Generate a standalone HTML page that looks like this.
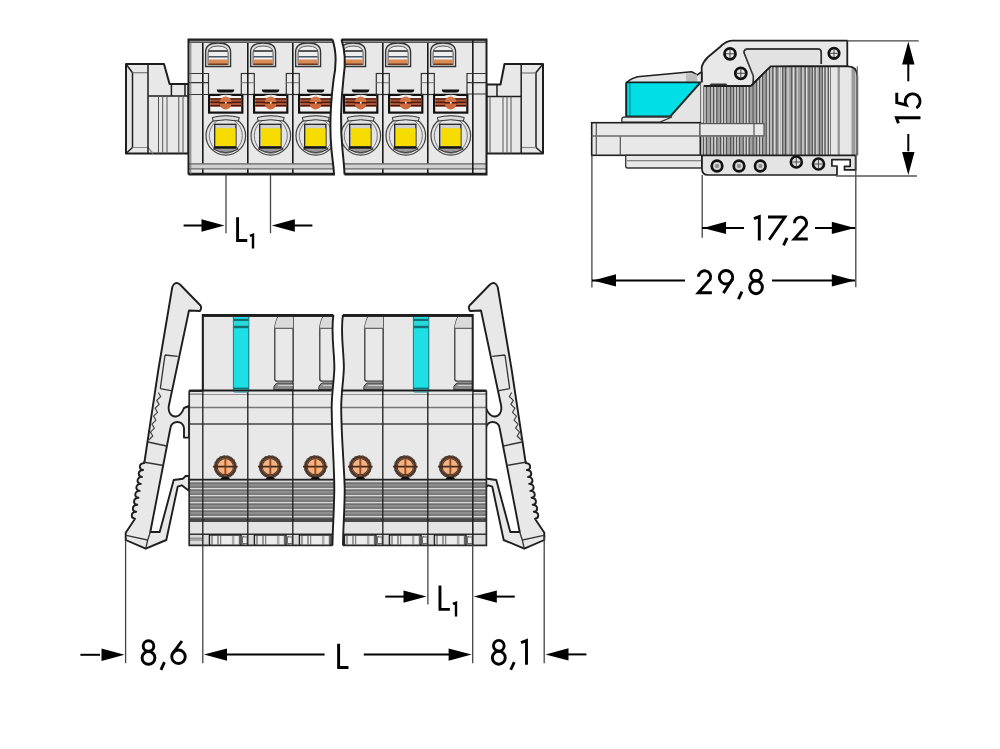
<!DOCTYPE html><html><head><meta charset="utf-8"><style>html,body{margin:0;padding:0;background:#fff;width:1000px;height:749px;overflow:hidden;font-family:"Liberation Sans",sans-serif}svg{display:block}text{font-family:"Liberation Sans",sans-serif}</style></head><body><svg width="1000" height="749" viewBox="0 0 1000 749"><rect width="1000" height="749" fill="#fff"/><g stroke="#1e1e1e" stroke-linejoin="round"><path d="M126,64 L164,64 L169.6,84 L188.5,84 L188.5,153.5 L126,153.5 Z" fill="#e8e8e8" stroke-width="2"/><path d="M126,64 L132.5,72.7 L132.5,147.5 L126,153.5" fill="none" stroke-width="1.5"/><path d="M132.5,72.7 L148,72.7" fill="none" stroke="#777" stroke-width="1.2"/><path d="M132.5,147.5 L148,147.5 L153,153.5" fill="none" stroke="#888" stroke-width="1.2"/><path d="M148,64 L148,153.5" fill="none" stroke-width="1.5"/><path d="M148,96 L188.5,96 M171.4,84 L171.4,96 M185,84 L185,96" fill="none" stroke-width="1.5"/><path d="M158.5,96 L158.5,153.5" fill="none" stroke="#555" stroke-width="1"/><path d="M162.7,96 L162.7,153.5" fill="none" stroke="#555" stroke-width="1"/><path d="M167,96 L167,153.5" fill="none" stroke="#555" stroke-width="1"/><path d="M178.8,96 L178.8,153.5" fill="none" stroke="#555" stroke-width="1"/><path d="M183,96 L183,153.5" fill="none" stroke="#555" stroke-width="1"/></g><g stroke="#1e1e1e" stroke-linejoin="round"><path d="M486.5,84.5 L500.5,84.5 L504.5,64 L543,64 L543,153.5 L486.5,153.5 Z" fill="#e8e8e8" stroke-width="2"/><path d="M543,64 L536,72.5 L536,147.5 L543,153.5" fill="none" stroke-width="1.5"/><path d="M521,73 L536,73" fill="none" stroke="#777" stroke-width="1.2"/><path d="M536,147.5 L521,147.5" fill="none" stroke="#888" stroke-width="1.2"/><path d="M521.2,64 L521.2,153.5" fill="none" stroke-width="1.5"/><path d="M486.5,96.5 L521,96.5 M497,84.5 L497,96.5" fill="none" stroke-width="1.5"/><path d="M490,96.5 L490,153.5" fill="none" stroke="#555" stroke-width="1"/><path d="M503,96.5 L503,153.5" fill="none" stroke="#555" stroke-width="1"/><path d="M507,96.5 L507,153.5" fill="none" stroke="#555" stroke-width="1"/><path d="M511,96.5 L511,153.5" fill="none" stroke="#555" stroke-width="1"/></g><defs><clipPath id="cL"><path d="M188.5,39.5 L332.5,39.5 C336,50 336.5,65 333.5,80 C331,100 329.5,130 331.5,150 C332.5,160 334,170 334,174.5 L188.5,174.5 Z"/></clipPath><clipPath id="cR"><path d="M341.5,39.5 C345,50 346,62 343.5,78 C341,100 340.5,130 342.5,150 C343.5,160 344.5,170 344.5,174.5 L486.5,174.5 L486.5,39.5 Z"/></clipPath></defs><g clip-path="url(#cL)"><rect x="186.5" y="38" width="151.5" height="138" fill="#e8e8e8"/><path d="M205.60000000000002,66.5 L205.60000000000002,52 Q205.60000000000002,43 218.10000000000002,43 Q230.60000000000002,43 230.60000000000002,52 L230.60000000000002,66.5 Z" fill="#dcdcdc" stroke="#333" stroke-width="1.3"/><path d="M208.10000000000002,64.5 L208.10000000000002,53 Q208.10000000000002,46 218.10000000000002,46 Q228.10000000000002,46 228.10000000000002,53 L228.10000000000002,64.5 Z" fill="#eee" stroke="#555" stroke-width="1"/><rect x="208.60000000000002" y="50" width="19.0" height="2" fill="#555"/><rect x="208.60000000000002" y="56" width="19.0" height="1.5" fill="#456"/><rect x="208.60000000000002" y="59.5" width="19.0" height="4.5" fill="#d98a55"/><rect x="208.60000000000002" y="63.5" width="19.0" height="1.5" fill="#6a3a20"/><path d="M216.8,89.5 L234.3,89.5 Q234.3,92.5 231.3,92.5 L219.8,92.5 Q216.8,92.5 216.8,89.5 Z" fill="#111"/><rect x="209.10000000000002" y="94.9" width="33.2" height="17.7" fill="#f2f2f2" stroke="#111" stroke-width="2.2"/><rect x="210.3" y="98.3" width="31" height="8.4" fill="#a85838"/><rect x="210.3" y="98.3" width="31" height="1.3" fill="#4a1208"/><rect x="210.3" y="101.6" width="31" height="1.3" fill="#4a1208"/><rect x="210.3" y="105.0" width="31" height="1.3" fill="#4a1208"/><path d="M217.3,97 Q225.8,93.5 234.3,97" fill="none" stroke="#fff" stroke-width="1.2"/><path d="M219.8,102 A5.6,5.2 0 0 1 231.4,102 Z" fill="#d27648"/><path d="M219.8,103.6 A5.6,5.8 0 0 0 231.4,103.6 Z" fill="#cf6a3c"/><path d="M219.3,102.8 L232.3,102.8" stroke="#5a1a0a" stroke-width="1.4"/><circle cx="225.8" cy="102.8" r="1" fill="#f0f0f0"/><ellipse cx="225.8" cy="135.7" rx="19.8" ry="19.4" fill="#e4e4e6" stroke="#444" stroke-width="1.2"/><ellipse cx="225.8" cy="135.7" rx="16.5" ry="17.5" fill="none" stroke="#777" stroke-width="1"/><path d="M212.3,117.5 Q225.8,114 239.3,117.5 L238.3,121 Q225.8,118.5 213.3,121 Z" fill="#ddd" stroke="#333" stroke-width="1"/><path d="M213.3,149 Q225.8,156 238.3,149 L236.3,147.5 L215.3,147.5 Z" fill="#9a9a9a" stroke="#333" stroke-width="1"/><rect x="214.70000000000002" y="124.3" width="21.2" height="23.7" fill="#cfcfcf" stroke="#222" stroke-width="1.3"/><rect x="215.9" y="128.3" width="19.7" height="18.1" fill="#f7dc00"/><rect x="214.70000000000002" y="146.2" width="21.2" height="2" fill="#111"/><path d="M250.60000000000002,66.5 L250.60000000000002,52 Q250.60000000000002,43 263.1,43 Q275.6,43 275.6,52 L275.6,66.5 Z" fill="#dcdcdc" stroke="#333" stroke-width="1.3"/><path d="M253.10000000000002,64.5 L253.10000000000002,53 Q253.10000000000002,46 263.1,46 Q273.1,46 273.1,53 L273.1,64.5 Z" fill="#eee" stroke="#555" stroke-width="1"/><rect x="253.60000000000002" y="50" width="19.0" height="2" fill="#555"/><rect x="253.60000000000002" y="56" width="19.0" height="1.5" fill="#456"/><rect x="253.60000000000002" y="59.5" width="19.0" height="4.5" fill="#d98a55"/><rect x="253.60000000000002" y="63.5" width="19.0" height="1.5" fill="#6a3a20"/><rect x="241.3" y="73.5" width="13" height="21" fill="none" stroke="#333" stroke-width="1.2"/><path d="M241.3,82.7 L254.3,82.7" stroke="#777" stroke-width="1"/><path d="M261.8,89.5 L279.3,89.5 Q279.3,92.5 276.3,92.5 L264.8,92.5 Q261.8,92.5 261.8,89.5 Z" fill="#111"/><rect x="254.10000000000002" y="94.9" width="33.2" height="17.7" fill="#f2f2f2" stroke="#111" stroke-width="2.2"/><rect x="255.3" y="98.3" width="31" height="8.4" fill="#a85838"/><rect x="255.3" y="98.3" width="31" height="1.3" fill="#4a1208"/><rect x="255.3" y="101.6" width="31" height="1.3" fill="#4a1208"/><rect x="255.3" y="105.0" width="31" height="1.3" fill="#4a1208"/><path d="M262.3,97 Q270.8,93.5 279.3,97" fill="none" stroke="#fff" stroke-width="1.2"/><path d="M264.8,102 A5.6,5.2 0 0 1 276.40000000000003,102 Z" fill="#d27648"/><path d="M264.8,103.6 A5.6,5.8 0 0 0 276.40000000000003,103.6 Z" fill="#cf6a3c"/><path d="M264.3,102.8 L277.3,102.8" stroke="#5a1a0a" stroke-width="1.4"/><circle cx="270.8" cy="102.8" r="1" fill="#f0f0f0"/><ellipse cx="270.8" cy="135.7" rx="19.8" ry="19.4" fill="#e4e4e6" stroke="#444" stroke-width="1.2"/><ellipse cx="270.8" cy="135.7" rx="16.5" ry="17.5" fill="none" stroke="#777" stroke-width="1"/><path d="M257.3,117.5 Q270.8,114 284.3,117.5 L283.3,121 Q270.8,118.5 258.3,121 Z" fill="#ddd" stroke="#333" stroke-width="1"/><path d="M258.3,149 Q270.8,156 283.3,149 L281.3,147.5 L260.3,147.5 Z" fill="#9a9a9a" stroke="#333" stroke-width="1"/><rect x="259.7" y="124.3" width="21.2" height="23.7" fill="#cfcfcf" stroke="#222" stroke-width="1.3"/><rect x="260.90000000000003" y="128.3" width="19.7" height="18.1" fill="#f7dc00"/><rect x="259.7" y="146.2" width="21.2" height="2" fill="#111"/><path d="M295.6,66.5 L295.6,52 Q295.6,43 308.1,43 Q320.6,43 320.6,52 L320.6,66.5 Z" fill="#dcdcdc" stroke="#333" stroke-width="1.3"/><path d="M298.1,64.5 L298.1,53 Q298.1,46 308.1,46 Q318.1,46 318.1,53 L318.1,64.5 Z" fill="#eee" stroke="#555" stroke-width="1"/><rect x="298.6" y="50" width="19.0" height="2" fill="#555"/><rect x="298.6" y="56" width="19.0" height="1.5" fill="#456"/><rect x="298.6" y="59.5" width="19.0" height="4.5" fill="#d98a55"/><rect x="298.6" y="63.5" width="19.0" height="1.5" fill="#6a3a20"/><rect x="286.3" y="73.5" width="13" height="21" fill="none" stroke="#333" stroke-width="1.2"/><path d="M286.3,82.7 L299.3,82.7" stroke="#777" stroke-width="1"/><path d="M306.8,89.5 L324.3,89.5 Q324.3,92.5 321.3,92.5 L309.8,92.5 Q306.8,92.5 306.8,89.5 Z" fill="#111"/><rect x="299.1" y="94.9" width="33.2" height="17.7" fill="#f2f2f2" stroke="#111" stroke-width="2.2"/><rect x="300.3" y="98.3" width="31" height="8.4" fill="#a85838"/><rect x="300.3" y="98.3" width="31" height="1.3" fill="#4a1208"/><rect x="300.3" y="101.6" width="31" height="1.3" fill="#4a1208"/><rect x="300.3" y="105.0" width="31" height="1.3" fill="#4a1208"/><path d="M307.3,97 Q315.8,93.5 324.3,97" fill="none" stroke="#fff" stroke-width="1.2"/><path d="M309.8,102 A5.6,5.2 0 0 1 321.40000000000003,102 Z" fill="#d27648"/><path d="M309.8,103.6 A5.6,5.8 0 0 0 321.40000000000003,103.6 Z" fill="#cf6a3c"/><path d="M309.3,102.8 L322.3,102.8" stroke="#5a1a0a" stroke-width="1.4"/><circle cx="315.8" cy="102.8" r="1" fill="#f0f0f0"/><ellipse cx="315.8" cy="135.7" rx="19.8" ry="19.4" fill="#e4e4e6" stroke="#444" stroke-width="1.2"/><ellipse cx="315.8" cy="135.7" rx="16.5" ry="17.5" fill="none" stroke="#777" stroke-width="1"/><path d="M302.3,117.5 Q315.8,114 329.3,117.5 L328.3,121 Q315.8,118.5 303.3,121 Z" fill="#ddd" stroke="#333" stroke-width="1"/><path d="M303.3,149 Q315.8,156 328.3,149 L326.3,147.5 L305.3,147.5 Z" fill="#9a9a9a" stroke="#333" stroke-width="1"/><rect x="304.7" y="124.3" width="21.2" height="23.7" fill="#cfcfcf" stroke="#222" stroke-width="1.3"/><rect x="305.90000000000003" y="128.3" width="19.7" height="18.1" fill="#f7dc00"/><rect x="304.7" y="146.2" width="21.2" height="2" fill="#111"/><path d="M202.8,39.5 L202.8,174.5" stroke="#1a1a1a" stroke-width="1.6"/><path d="M247.8,39.5 L247.8,174.5" stroke="#1a1a1a" stroke-width="1.6"/><path d="M292.8,39.5 L292.8,174.5" stroke="#1a1a1a" stroke-width="1.6"/><rect x="186.5" y="39" width="151.5" height="3.2" fill="#888"/><path d="M186.5,39.8 L338,39.8" stroke="#333" stroke-width="1.6"/><path d="M186.5,42.5 L338,42.5" stroke="#555" stroke-width="1"/><rect x="186.5" y="163.5" width="151.5" height="5" fill="#cfcfcf"/><path d="M186.5,163.8 L338,163.8 M186.5,168.8 L338,168.8" stroke="#666" stroke-width="1.2"/><path d="M186.5,173.8 L338,173.8" stroke="#222" stroke-width="2"/></g><g clip-path="url(#cR)"><rect x="338" y="38" width="150.5" height="138" fill="#e8e8e8"/><path d="M340.6,66.5 L340.6,52 Q340.6,43 353.1,43 Q365.6,43 365.6,52 L365.6,66.5 Z" fill="#dcdcdc" stroke="#333" stroke-width="1.3"/><path d="M343.1,64.5 L343.1,53 Q343.1,46 353.1,46 Q363.1,46 363.1,53 L363.1,64.5 Z" fill="#eee" stroke="#555" stroke-width="1"/><rect x="343.6" y="50" width="19.0" height="2" fill="#555"/><rect x="343.6" y="56" width="19.0" height="1.5" fill="#456"/><rect x="343.6" y="59.5" width="19.0" height="4.5" fill="#d98a55"/><rect x="343.6" y="63.5" width="19.0" height="1.5" fill="#6a3a20"/><path d="M351.8,89.5 L369.3,89.5 Q369.3,92.5 366.3,92.5 L354.8,92.5 Q351.8,92.5 351.8,89.5 Z" fill="#111"/><rect x="344.1" y="94.9" width="33.2" height="17.7" fill="#f2f2f2" stroke="#111" stroke-width="2.2"/><rect x="345.3" y="98.3" width="31" height="8.4" fill="#a85838"/><rect x="345.3" y="98.3" width="31" height="1.3" fill="#4a1208"/><rect x="345.3" y="101.6" width="31" height="1.3" fill="#4a1208"/><rect x="345.3" y="105.0" width="31" height="1.3" fill="#4a1208"/><path d="M352.3,97 Q360.8,93.5 369.3,97" fill="none" stroke="#fff" stroke-width="1.2"/><path d="M354.8,102 A5.6,5.2 0 0 1 366.40000000000003,102 Z" fill="#d27648"/><path d="M354.8,103.6 A5.6,5.8 0 0 0 366.40000000000003,103.6 Z" fill="#cf6a3c"/><path d="M354.3,102.8 L367.3,102.8" stroke="#5a1a0a" stroke-width="1.4"/><circle cx="360.8" cy="102.8" r="1" fill="#f0f0f0"/><ellipse cx="360.8" cy="135.7" rx="19.8" ry="19.4" fill="#e4e4e6" stroke="#444" stroke-width="1.2"/><ellipse cx="360.8" cy="135.7" rx="16.5" ry="17.5" fill="none" stroke="#777" stroke-width="1"/><path d="M347.3,117.5 Q360.8,114 374.3,117.5 L373.3,121 Q360.8,118.5 348.3,121 Z" fill="#ddd" stroke="#333" stroke-width="1"/><path d="M348.3,149 Q360.8,156 373.3,149 L371.3,147.5 L350.3,147.5 Z" fill="#9a9a9a" stroke="#333" stroke-width="1"/><rect x="349.7" y="124.3" width="21.2" height="23.7" fill="#cfcfcf" stroke="#222" stroke-width="1.3"/><rect x="350.90000000000003" y="128.3" width="19.7" height="18.1" fill="#f7dc00"/><rect x="349.7" y="146.2" width="21.2" height="2" fill="#111"/><path d="M385.6,66.5 L385.6,52 Q385.6,43 398.1,43 Q410.6,43 410.6,52 L410.6,66.5 Z" fill="#dcdcdc" stroke="#333" stroke-width="1.3"/><path d="M388.1,64.5 L388.1,53 Q388.1,46 398.1,46 Q408.1,46 408.1,53 L408.1,64.5 Z" fill="#eee" stroke="#555" stroke-width="1"/><rect x="388.6" y="50" width="19.0" height="2" fill="#555"/><rect x="388.6" y="56" width="19.0" height="1.5" fill="#456"/><rect x="388.6" y="59.5" width="19.0" height="4.5" fill="#d98a55"/><rect x="388.6" y="63.5" width="19.0" height="1.5" fill="#6a3a20"/><rect x="376.3" y="73.5" width="13" height="21" fill="none" stroke="#333" stroke-width="1.2"/><path d="M376.3,82.7 L389.3,82.7" stroke="#777" stroke-width="1"/><path d="M396.8,89.5 L414.3,89.5 Q414.3,92.5 411.3,92.5 L399.8,92.5 Q396.8,92.5 396.8,89.5 Z" fill="#111"/><rect x="389.1" y="94.9" width="33.2" height="17.7" fill="#f2f2f2" stroke="#111" stroke-width="2.2"/><rect x="390.3" y="98.3" width="31" height="8.4" fill="#a85838"/><rect x="390.3" y="98.3" width="31" height="1.3" fill="#4a1208"/><rect x="390.3" y="101.6" width="31" height="1.3" fill="#4a1208"/><rect x="390.3" y="105.0" width="31" height="1.3" fill="#4a1208"/><path d="M397.3,97 Q405.8,93.5 414.3,97" fill="none" stroke="#fff" stroke-width="1.2"/><path d="M399.8,102 A5.6,5.2 0 0 1 411.40000000000003,102 Z" fill="#d27648"/><path d="M399.8,103.6 A5.6,5.8 0 0 0 411.40000000000003,103.6 Z" fill="#cf6a3c"/><path d="M399.3,102.8 L412.3,102.8" stroke="#5a1a0a" stroke-width="1.4"/><circle cx="405.8" cy="102.8" r="1" fill="#f0f0f0"/><ellipse cx="405.8" cy="135.7" rx="19.8" ry="19.4" fill="#e4e4e6" stroke="#444" stroke-width="1.2"/><ellipse cx="405.8" cy="135.7" rx="16.5" ry="17.5" fill="none" stroke="#777" stroke-width="1"/><path d="M392.3,117.5 Q405.8,114 419.3,117.5 L418.3,121 Q405.8,118.5 393.3,121 Z" fill="#ddd" stroke="#333" stroke-width="1"/><path d="M393.3,149 Q405.8,156 418.3,149 L416.3,147.5 L395.3,147.5 Z" fill="#9a9a9a" stroke="#333" stroke-width="1"/><rect x="394.7" y="124.3" width="21.2" height="23.7" fill="#cfcfcf" stroke="#222" stroke-width="1.3"/><rect x="395.90000000000003" y="128.3" width="19.7" height="18.1" fill="#f7dc00"/><rect x="394.7" y="146.2" width="21.2" height="2" fill="#111"/><path d="M430.6,66.5 L430.6,52 Q430.6,43 443.1,43 Q455.6,43 455.6,52 L455.6,66.5 Z" fill="#dcdcdc" stroke="#333" stroke-width="1.3"/><path d="M433.1,64.5 L433.1,53 Q433.1,46 443.1,46 Q453.1,46 453.1,53 L453.1,64.5 Z" fill="#eee" stroke="#555" stroke-width="1"/><rect x="433.6" y="50" width="19.0" height="2" fill="#555"/><rect x="433.6" y="56" width="19.0" height="1.5" fill="#456"/><rect x="433.6" y="59.5" width="19.0" height="4.5" fill="#d98a55"/><rect x="433.6" y="63.5" width="19.0" height="1.5" fill="#6a3a20"/><rect x="421.3" y="73.5" width="13" height="21" fill="none" stroke="#333" stroke-width="1.2"/><path d="M421.3,82.7 L434.3,82.7" stroke="#777" stroke-width="1"/><path d="M441.8,89.5 L459.3,89.5 Q459.3,92.5 456.3,92.5 L444.8,92.5 Q441.8,92.5 441.8,89.5 Z" fill="#111"/><rect x="434.1" y="94.9" width="33.2" height="17.7" fill="#f2f2f2" stroke="#111" stroke-width="2.2"/><rect x="435.3" y="98.3" width="31" height="8.4" fill="#a85838"/><rect x="435.3" y="98.3" width="31" height="1.3" fill="#4a1208"/><rect x="435.3" y="101.6" width="31" height="1.3" fill="#4a1208"/><rect x="435.3" y="105.0" width="31" height="1.3" fill="#4a1208"/><path d="M442.3,97 Q450.8,93.5 459.3,97" fill="none" stroke="#fff" stroke-width="1.2"/><path d="M444.8,102 A5.6,5.2 0 0 1 456.40000000000003,102 Z" fill="#d27648"/><path d="M444.8,103.6 A5.6,5.8 0 0 0 456.40000000000003,103.6 Z" fill="#cf6a3c"/><path d="M444.3,102.8 L457.3,102.8" stroke="#5a1a0a" stroke-width="1.4"/><circle cx="450.8" cy="102.8" r="1" fill="#f0f0f0"/><ellipse cx="450.8" cy="135.7" rx="19.8" ry="19.4" fill="#e4e4e6" stroke="#444" stroke-width="1.2"/><ellipse cx="450.8" cy="135.7" rx="16.5" ry="17.5" fill="none" stroke="#777" stroke-width="1"/><path d="M437.3,117.5 Q450.8,114 464.3,117.5 L463.3,121 Q450.8,118.5 438.3,121 Z" fill="#ddd" stroke="#333" stroke-width="1"/><path d="M438.3,149 Q450.8,156 463.3,149 L461.3,147.5 L440.3,147.5 Z" fill="#9a9a9a" stroke="#333" stroke-width="1"/><rect x="439.7" y="124.3" width="21.2" height="23.7" fill="#cfcfcf" stroke="#222" stroke-width="1.3"/><rect x="440.90000000000003" y="128.3" width="19.7" height="18.1" fill="#f7dc00"/><rect x="439.7" y="146.2" width="21.2" height="2" fill="#111"/><path d="M337.8,39.5 L337.8,174.5" stroke="#1a1a1a" stroke-width="1.6"/><path d="M382.8,39.5 L382.8,174.5" stroke="#1a1a1a" stroke-width="1.6"/><path d="M427.8,39.5 L427.8,174.5" stroke="#1a1a1a" stroke-width="1.6"/><rect x="338" y="39" width="150.5" height="3.2" fill="#888"/><path d="M338,39.8 L488.5,39.8" stroke="#333" stroke-width="1.6"/><path d="M338,42.5 L488.5,42.5" stroke="#555" stroke-width="1"/><rect x="338" y="163.5" width="150.5" height="5" fill="#cfcfcf"/><path d="M338,163.8 L488.5,163.8 M338,168.8 L488.5,168.8" stroke="#666" stroke-width="1.2"/><path d="M338,173.8 L488.5,173.8" stroke="#222" stroke-width="2"/></g><path d="M472.8,39.5 L472.8,174.5" stroke="#1a1a1a" stroke-width="1.6"/><path d="M188.5,174.5 L188.5,39.5 L332.5,39.5" fill="none" stroke="#1e1e1e" stroke-width="2"/><path d="M332.5,39.5 C336,50 336.5,65 333.5,80 C331,100 329.5,130 331.5,150 C332.5,160 334,170 334,174.5 L188.5,174.5" fill="none" stroke="#1e1e1e" stroke-width="2"/><path d="M341.5,39.5 C345,50 346,62 343.5,78 C341,100 340.5,130 342.5,150 C343.5,160 344.5,170 344.5,174.5" fill="none" stroke="#1e1e1e" stroke-width="2"/><path d="M341.5,39.5 L486.5,39.5 L486.5,174.5 L344.5,174.5" fill="none" stroke="#1e1e1e" stroke-width="2"/><path d="M188.5,73.5 L208.5,73.5 L208.5,94.5 L188.5,94.5 M188.5,82.7 L208.5,82.7" fill="none" stroke="#333" stroke-width="1.2"/><path d="M190.8,42 L190.8,174" stroke="#777" stroke-width="1"/><path d="M486.5,73.5 L467,73.5 L467,94 L486.5,94 M467,82.7 L486.5,82.7" fill="none" stroke="#333" stroke-width="1.2"/><g id="side"><path d="M701.7,86 L701.7,67 Q703,62 708,57 L720,47 Q726,41 732,40.7 L847.3,40.7 L847.3,66.3 L770.7,66.3 L751,86 Z" fill="#e8e8e8" stroke="#1e1e1e" stroke-width="1.8" stroke-linejoin="round"/><path d="M744,52.5 Q744,49 748,49 L818,49 Q821.3,49 821.3,53 L821.3,64 M744,52.5 L753.3,76 L753.3,84" fill="none" stroke="#333" stroke-width="1.5"/><path d="M748,50 L818,50 L820,64 L770,66 L753,82 L745,53 Z" fill="#e2e2e2"/><path d="M744,52.5 Q744,49 748,49 L818,49 Q821.3,49 821.3,53 L821.3,64 M744,52.5 L753.3,76 L753.3,84" fill="none" stroke="#333" stroke-width="1.5"/><circle cx="730" cy="53.8" r="5.5" fill="#e8e8e8" stroke="#111" stroke-width="2.8"/><path d="M726.0,53.8 L734.0,53.8 M730,49.8 L730,57.8" stroke="#333" stroke-width="0.9"/><circle cx="740.8" cy="73.3" r="5.5" fill="#e8e8e8" stroke="#111" stroke-width="2.8"/><path d="M736.8,73.3 L744.8,73.3 M740.8,69.3 L740.8,77.3" stroke="#333" stroke-width="0.9"/><circle cx="834" cy="53.3" r="5.2" fill="#e8e8e8" stroke="#111" stroke-width="2.8"/><path d="M830.3,53.3 L837.7,53.3 M834,49.599999999999994 L834,57.0" stroke="#333" stroke-width="0.9"/><path d="M708.5,86 L711,83.5 L726,83.5 L728.5,86 Z" fill="#333"/><path d="M626.3,116.3 L626.3,84 Q627,80 637.5,76.7 L691.6,71.7 L697.4,74.9 L700.6,72.5 L701.7,72.5 L701.7,86 L700.6,84.7 Z" fill="#e4e4e4" stroke="#1e1e1e" stroke-width="1.6" stroke-linejoin="round"/><path d="M686,73 L697,74.5 L697,84 L686,84 Z" fill="#bdbdbd"/><defs><clipPath id="stripe"><path d="M700.3,86 L751,86 L770.7,66.3 L848,66.3 Q857.3,66.3 857.3,76 L857.3,155.3 L700.3,155.3 Z"/></clipPath></defs><g clip-path="url(#stripe)"><rect x="700" y="60" width="160" height="100" fill="#a0a0a0"/><rect x="701.6" y="60" width="1.1" height="100" fill="#dedede"/><rect x="704.4" y="60" width="1.1" height="100" fill="#dedede"/><rect x="711.4" y="60" width="1.1" height="100" fill="#dedede"/><rect x="714.6" y="60" width="1.1" height="100" fill="#dedede"/><rect x="721.6" y="60" width="1.1" height="100" fill="#dedede"/><rect x="724.4" y="60" width="1.1" height="100" fill="#dedede"/><rect x="734.5" y="60" width="1.1" height="100" fill="#dedede"/><rect x="737.3" y="60" width="1.1" height="100" fill="#dedede"/><rect x="744.3" y="60" width="1.1" height="100" fill="#dedede"/><rect x="747.1" y="60" width="1.1" height="100" fill="#dedede"/><rect x="757.6" y="60" width="1.1" height="100" fill="#dedede"/><rect x="760.5" y="60" width="1.1" height="100" fill="#dedede"/><rect x="767.4" y="60" width="1.1" height="100" fill="#dedede"/><rect x="770.4" y="60" width="1.1" height="100" fill="#dedede"/><rect x="774.0" y="60" width="1.1" height="100" fill="#dedede"/><rect x="779.0" y="60" width="1.1" height="100" fill="#dedede"/><rect x="780.8" y="60" width="1.1" height="100" fill="#dedede"/><rect x="787.5" y="60" width="1.1" height="100" fill="#dedede"/><rect x="792.9" y="60" width="1.1" height="100" fill="#dedede"/><rect x="796.5" y="60" width="1.1" height="100" fill="#dedede"/><rect x="802.4" y="60" width="1.1" height="100" fill="#dedede"/><rect x="806.0" y="60" width="1.1" height="100" fill="#dedede"/><rect x="812.7" y="60" width="1.1" height="100" fill="#dedede"/><rect x="816.3" y="60" width="1.1" height="100" fill="#dedede"/><rect x="823.1" y="60" width="1.1" height="100" fill="#dedede"/><rect x="825.8" y="60" width="1.1" height="100" fill="#dedede"/><rect x="702.9" y="60" width="1.1" height="100" fill="#555"/><rect x="705.9" y="60" width="1.1" height="100" fill="#555"/><rect x="710.0" y="60" width="1.1" height="100" fill="#555"/><rect x="713.0" y="60" width="1.1" height="100" fill="#555"/><rect x="716.3" y="60" width="1.1" height="100" fill="#555"/><rect x="720.0" y="60" width="1.1" height="100" fill="#555"/><rect x="723.0" y="60" width="1.1" height="100" fill="#555"/><rect x="726.0" y="60" width="1.1" height="100" fill="#555"/><rect x="730.0" y="60" width="1.1" height="100" fill="#555"/><rect x="733.0" y="60" width="1.1" height="100" fill="#555"/><rect x="736.0" y="60" width="1.1" height="100" fill="#555"/><rect x="739.0" y="60" width="1.1" height="100" fill="#555"/><rect x="742.7" y="60" width="1.1" height="100" fill="#555"/><rect x="745.7" y="60" width="1.1" height="100" fill="#555"/><rect x="748.7" y="60" width="1.1" height="100" fill="#555"/><rect x="752.5" y="60" width="1.1" height="100" fill="#555"/><rect x="756.0" y="60" width="1.1" height="100" fill="#555"/><rect x="759.0" y="60" width="1.1" height="100" fill="#555"/><rect x="762.0" y="60" width="1.1" height="100" fill="#555"/><rect x="765.7" y="60" width="1.1" height="100" fill="#555"/><rect x="769.0" y="60" width="1.1" height="100" fill="#555"/><rect x="772.2" y="60" width="1.1" height="100" fill="#555"/><rect x="776.3" y="60" width="1.1" height="100" fill="#555"/><rect x="782.1" y="60" width="1.1" height="100" fill="#555"/><rect x="785.0" y="60" width="1.1" height="100" fill="#555"/><rect x="791.1" y="60" width="1.1" height="100" fill="#555"/><rect x="795.2" y="60" width="1.1" height="100" fill="#555"/><rect x="800.6" y="60" width="1.1" height="100" fill="#555"/><rect x="804.6" y="60" width="1.1" height="100" fill="#555"/><rect x="808.5" y="60" width="1.1" height="100" fill="#555"/><rect x="811.8" y="60" width="1.1" height="100" fill="#555"/><rect x="814.5" y="60" width="1.1" height="100" fill="#555"/><rect x="819.0" y="60" width="1.1" height="100" fill="#555"/><rect x="821.8" y="60" width="1.1" height="100" fill="#555"/><rect x="824.5" y="60" width="1.1" height="100" fill="#555"/><rect x="828.1" y="60" width="1.1" height="100" fill="#555"/><rect x="829" y="60" width="28.3" height="100" fill="#e6e6e6"/><rect x="837.5" y="60" width="2.5" height="100" fill="#9a9a9a"/><rect x="851.5" y="60" width="4" height="100" fill="#9a9a9a"/><rect x="830" y="60" width="1" height="100" fill="#777"/></g><path d="M751,86 L770.7,66.3 L848,66.3 Q857.3,66.3 857.3,76 L857.3,155.3" fill="none" stroke="#1e1e1e" stroke-width="1.8"/><path d="M700.3,86 L751,86" stroke="#1e1e1e" stroke-width="1.8"/><path d="M857.3,66.3 L857.3,155.3" stroke="#777" stroke-width="1.3"/><path d="M626.3,82.4 L700.6,82.4 L670.4,116.3 L626.3,116.3 Z" fill="#00dfe6" stroke="#0d2a2a" stroke-width="1.8" stroke-linejoin="round"/><path d="M629.9,83 L629.9,116" stroke="#0a6a70" stroke-width="1"/><path d="M670.4,116.3 L700.6,82.4 L703.7,82.4 L703.7,122 L650,122 Z" fill="#e4e4e4"/><path d="M670.4,116.3 L700.6,82.4" stroke="#0d2a2a" stroke-width="1.8"/><path d="M700.6,84 L700.6,122 M703.7,86 L703.7,122" stroke="#666" stroke-width="1"/><path d="M621.8,122.2 L621.8,119 Q622,117 625,117 L672,117 L660,122.2 Z" fill="#ebebeb" stroke="#333" stroke-width="1.3"/><rect x="591.7" y="122.7" width="108.6" height="32.6" fill="#e8e8e8" stroke="#1e1e1e" stroke-width="1.6"/><path d="M596.3,123 L596.3,155 M591.7,136 L700.3,136 M620.3,136 L620.3,155" stroke="#555" stroke-width="1.2"/><rect x="700" y="123.6" width="64" height="12.2" fill="#e8e8e8" stroke="#555" stroke-width="1.2"/><path d="M754,123.6 L754,135.8" stroke="#555" stroke-width="1.2"/><path d="M591.7,136 L764,136" stroke="#777" stroke-width="1.2"/><path d="M625.7,155.3 L701.7,155.3 L701.7,168 L627.5,168 Q625.7,168 625.7,166 Z" fill="#e8e8e8" stroke="#333" stroke-width="1.3"/><path d="M627,160.7 L701.7,160.7" stroke="#666" stroke-width="1.1"/><path d="M702,155.3 L855.6,155.3 L855.6,169.9 L844.5,169.9 L844.5,166.3 L850.2,166.3 L850.2,159.7 L831.9,159.7 L831.9,166 L837,166 L837,175 L708,175 Q702,175 702,169 Z" fill="#e4e4e4" stroke="#1e1e1e" stroke-width="1.7" stroke-linejoin="round"/><circle cx="717" cy="166" r="5.3" fill="#d4d4d4" stroke="#111" stroke-width="2.7"/><rect x="715.2" y="164.2" width="3.6" height="3.6" fill="#8a8a8a"/><circle cx="739" cy="166" r="5.3" fill="#d4d4d4" stroke="#111" stroke-width="2.7"/><rect x="737.2" y="164.2" width="3.6" height="3.6" fill="#8a8a8a"/><circle cx="760.3" cy="166" r="5.3" fill="#d4d4d4" stroke="#111" stroke-width="2.7"/><rect x="758.5" y="164.2" width="3.6" height="3.6" fill="#8a8a8a"/><circle cx="796.3" cy="162" r="5.5" fill="#ddd" stroke="#111" stroke-width="2.6"/><path d="M792.3,162 L800.3,162 M796.3,158 L796.3,166" stroke="#444" stroke-width="0.9"/><circle cx="818.5" cy="164" r="5.5" fill="#ddd" stroke="#111" stroke-width="2.6"/><path d="M814.5,164 L822.5,164 M818.5,160 L818.5,168" stroke="#444" stroke-width="0.9"/></g><g><path d="M172.3,287 Q175,280.5 180,284.5 L200.5,305.5 Q202,308 200,311 L189,310.5 L169,405 C167.5,412 171,417 176,416.5 C180,416 182.5,412 184,408 L189,406 L189,437.6 L184,437.6 L184,428 C183.5,424 180,421.5 176.8,422 C173,422.5 170.8,425 170.4,428 L150.3,532 L159.7,532 L173.7,480 L183,478.7 L185.7,476 L189,476 L189,490.7 L181.7,485.3 L177.7,486.7 L166.3,540 L145.7,548.7 L125.7,540 L125.7,532.7 L135,518.7 C130.5,518.2 130.5,512.2 136.2,511.7 C131.6,511.3 131.6,505.3 137.3,504.8 C132.8,504.3 132.8,498.3 138.5,497.8 C134.0,497.3 134.0,491.3 139.7,490.9 C135.1,490.4 135.1,484.4 140.8,483.9 C136.3,483.4 136.3,477.4 142.0,476.9 C137.5,476.4 137.5,470.4 143.1,470.0 C138.6,469.5 138.6,463.5 144.3,463.0 L158.3,370 Z" fill="#e8e8e8" stroke="#1e1e1e" stroke-width="1.9" stroke-linejoin="round"/><path d="M165,355 L177.7,356.3 M165,355 L160.3,388.7 M160.3,388.7 L171,390.7 M148,442 L166.5,446 M143,462 L163.5,465.5 M126.3,535.3 L147.7,540 L145.7,548.7 M147.7,540 L150.3,532" fill="none" stroke="#333" stroke-width="1.3"/><path d="M158.3,392.5 L160.7,396.5 L156.7,400.4 L159.1,404.4 L155.1,408.3 L157.5,412.3 L153.6,416.2 L156.0,420.2 L152.0,424.2 L154.4,428.1 L150.4,432.1 L152.8,436.0 L148.8,440.0 " fill="none" stroke="#444" stroke-width="1.2" stroke-linejoin="round"/></g><g transform="translate(670,0) scale(-1,1)"><path d="M172.3,287 Q175,280.5 180,284.5 L200.5,305.5 Q202,308 200,311 L189,310.5 L169,405 C167.5,412 171,417 176,416.5 C180,416 182.5,412 184,408 L189,406 L189,437.6 L184,437.6 L184,428 C183.5,424 180,421.5 176.8,422 C173,422.5 170.8,425 170.4,428 L150.3,532 L159.7,532 L173.7,480 L183,478.7 L185.7,476 L189,476 L189,490.7 L181.7,485.3 L177.7,486.7 L166.3,540 L145.7,548.7 L125.7,540 L125.7,532.7 L135,518.7 C130.5,518.2 130.5,512.2 136.2,511.7 C131.6,511.3 131.6,505.3 137.3,504.8 C132.8,504.3 132.8,498.3 138.5,497.8 C134.0,497.3 134.0,491.3 139.7,490.9 C135.1,490.4 135.1,484.4 140.8,483.9 C136.3,483.4 136.3,477.4 142.0,476.9 C137.5,476.4 137.5,470.4 143.1,470.0 C138.6,469.5 138.6,463.5 144.3,463.0 L158.3,370 Z" fill="#e8e8e8" stroke="#1e1e1e" stroke-width="1.9" stroke-linejoin="round"/><path d="M165,355 L177.7,356.3 M165,355 L160.3,388.7 M160.3,388.7 L171,390.7 M148,442 L166.5,446 M143,462 L163.5,465.5 M126.3,535.3 L147.7,540 L145.7,548.7 M147.7,540 L150.3,532" fill="none" stroke="#333" stroke-width="1.3"/><path d="M158.3,392.5 L160.7,396.5 L156.7,400.4 L159.1,404.4 L155.1,408.3 L157.5,412.3 L153.6,416.2 L156.0,420.2 L152.0,424.2 L154.4,428.1 L150.4,432.1 L152.8,436.0 L148.8,440.0 " fill="none" stroke="#444" stroke-width="1.2" stroke-linejoin="round"/></g><defs><clipPath id="bUL"><path d="M202.8,315 L333.4,315 C330.5,335 335,355 334.3,370 C333.5,385 331.5,395 331.7,410 L202.8,410 Z"/></clipPath><clipPath id="bUR"><path d="M342.9,315 C340,335 344.5,355 343.8,370 C343,385 341,395 341.2,410 L472.7,410 L472.7,315 Z"/></clipPath><clipPath id="bLL"><path d="M189.2,390.4 L331.7,390.4 C332,395 331.6,400 331.7,410 C332,440 334.5,470 334.3,490 C334,515 332.5,530 332.5,545.5 L189.2,545.5 Z"/></clipPath><clipPath id="bLR"><path d="M341.2,390.4 C341.2,400 341,405 341.2,410 C341.5,440 344.5,470 344.7,490 C344.5,515 343,530 343,545.5 L486.4,545.5 L486.4,390.4 Z"/></clipPath></defs><g clip-path="url(#bLL)"><rect x="186.2" y="389" width="152.8" height="158" fill="#e8e8e8"/><path d="M186.2,391.2 L339,391.2" stroke="#333" stroke-width="1.6"/><path d="M186.2,394.2 L339,394.2 M186.2,407.5 L339,407.5" stroke="#777" stroke-width="1.3"/><path d="M186.2,424 L339,424" stroke="#444" stroke-width="1.3"/><rect x="186.2" y="479" width="152.8" height="43" fill="#8e8e8e"/><path d="M186.2,479.5 L339,479.5" stroke="#222" stroke-width="1.5"/><rect x="186.2" y="481.09999999999997" width="152.8" height="1.6" fill="#e2e2e2"/><rect x="186.2" y="482.5" width="152.8" height="1" fill="#555"/><rect x="186.2" y="486.3" width="152.8" height="1.4" fill="#747474"/><rect x="186.2" y="488.09999999999997" width="152.8" height="1.6" fill="#e2e2e2"/><rect x="186.2" y="489.5" width="152.8" height="1" fill="#555"/><rect x="186.2" y="493.3" width="152.8" height="1.4" fill="#747474"/><rect x="186.2" y="495.09999999999997" width="152.8" height="1.6" fill="#e2e2e2"/><rect x="186.2" y="496.5" width="152.8" height="1" fill="#555"/><rect x="186.2" y="500.3" width="152.8" height="1.4" fill="#747474"/><rect x="186.2" y="502.09999999999997" width="152.8" height="1.6" fill="#e2e2e2"/><rect x="186.2" y="503.5" width="152.8" height="1" fill="#555"/><rect x="186.2" y="507.3" width="152.8" height="1.4" fill="#747474"/><rect x="186.2" y="509.09999999999997" width="152.8" height="1.6" fill="#e2e2e2"/><rect x="186.2" y="510.5" width="152.8" height="1" fill="#555"/><rect x="186.2" y="514.3" width="152.8" height="1.4" fill="#747474"/><rect x="186.2" y="516.1" width="152.8" height="1.6" fill="#e2e2e2"/><rect x="186.2" y="517.5" width="152.8" height="1" fill="#555"/><rect x="186.2" y="521.3000000000001" width="152.8" height="1.4" fill="#747474"/><rect x="186.2" y="518.4" width="152.8" height="3.6" fill="#4a4a4a"/><rect x="186.2" y="522" width="152.8" height="12" fill="#e4e4e4"/><path d="M186.2,534.3 L339,534.3" stroke="#333" stroke-width="1.4"/><rect x="186.2" y="535" width="152.8" height="10" fill="#dadada"/><path d="M209.4,535 L209.4,543.5 Q209.4,545.8 211.70000000000002,545.8 L238.7,545.8 Q241.0,545.8 241.0,543.5 L241.0,535 Z" fill="#ececec" stroke="#222" stroke-width="1.4"/><rect x="211.4" y="536" width="1.2" height="8.5" fill="#666"/><rect x="217.0" y="536" width="2" height="8.5" fill="#999"/><rect x="220.20000000000002" y="536" width="1" height="8.5" fill="#666"/><rect x="231.9" y="536" width="2.5" height="8.5" fill="#aaa"/><rect x="238.8" y="536" width="1.2" height="8.5" fill="#666"/><rect x="242.6" y="536" width="1.2" height="8.5" fill="#666"/><rect x="242.60000000000002" y="537" width="4.5" height="6.5" fill="#eee" stroke="#555" stroke-width="0.8"/><path d="M254.4,535 L254.4,543.5 Q254.4,545.8 256.7,545.8 L283.7,545.8 Q286.0,545.8 286.0,543.5 L286.0,535 Z" fill="#ececec" stroke="#222" stroke-width="1.4"/><rect x="256.40000000000003" y="536" width="1.2" height="8.5" fill="#666"/><rect x="262.0" y="536" width="2" height="8.5" fill="#999"/><rect x="265.20000000000005" y="536" width="1" height="8.5" fill="#666"/><rect x="276.90000000000003" y="536" width="2.5" height="8.5" fill="#aaa"/><rect x="283.8" y="536" width="1.2" height="8.5" fill="#666"/><rect x="287.6" y="536" width="1.2" height="8.5" fill="#666"/><rect x="287.6" y="537" width="4.5" height="6.5" fill="#eee" stroke="#555" stroke-width="0.8"/><path d="M299.40000000000003,535 L299.40000000000003,543.5 Q299.40000000000003,545.8 301.70000000000005,545.8 L328.7,545.8 Q331.0,545.8 331.0,543.5 L331.0,535 Z" fill="#ececec" stroke="#222" stroke-width="1.4"/><rect x="301.40000000000003" y="536" width="1.2" height="8.5" fill="#666"/><rect x="307.00000000000006" y="536" width="2" height="8.5" fill="#999"/><rect x="310.20000000000005" y="536" width="1" height="8.5" fill="#666"/><rect x="321.90000000000003" y="536" width="2.5" height="8.5" fill="#aaa"/><rect x="328.8" y="536" width="1.2" height="8.5" fill="#666"/><rect x="332.6" y="536" width="1.2" height="8.5" fill="#666"/><rect x="332.6" y="537" width="4.5" height="6.5" fill="#eee" stroke="#555" stroke-width="0.8"/><circle cx="225.3" cy="466.7" r="10" fill="#d9a882" stroke="#4a3428" stroke-width="2.6"/><circle cx="225.3" cy="466.7" r="11" fill="none" stroke="#6a5a50" stroke-width="1.2" stroke-dasharray="1.6 2.2"/><circle cx="225.3" cy="466.7" r="8" fill="none" stroke="#5a3a28" stroke-width="1.2"/><circle cx="225.3" cy="466.7" r="7.3" fill="#f3b384"/><rect x="224.0" y="459.4" width="2.6" height="14.6" fill="#cf7a40"/><path d="M213.0,466.7 L237.60000000000002,466.7" stroke="#4a2a18" stroke-width="1.8"/><path d="M225.3,456.7 L225.3,476.7" stroke="#7a4020" stroke-width="0.9"/><path d="M220.3,479.2 L230.3,479.2 L228.3,477.0 L222.3,477.0 Z" fill="#111"/><circle cx="270.3" cy="466.7" r="10" fill="#d9a882" stroke="#4a3428" stroke-width="2.6"/><circle cx="270.3" cy="466.7" r="11" fill="none" stroke="#6a5a50" stroke-width="1.2" stroke-dasharray="1.6 2.2"/><circle cx="270.3" cy="466.7" r="8" fill="none" stroke="#5a3a28" stroke-width="1.2"/><circle cx="270.3" cy="466.7" r="7.3" fill="#f3b384"/><rect x="269.0" y="459.4" width="2.6" height="14.6" fill="#cf7a40"/><path d="M258.0,466.7 L282.6,466.7" stroke="#4a2a18" stroke-width="1.8"/><path d="M270.3,456.7 L270.3,476.7" stroke="#7a4020" stroke-width="0.9"/><path d="M265.3,479.2 L275.3,479.2 L273.3,477.0 L267.3,477.0 Z" fill="#111"/><circle cx="315.3" cy="466.7" r="10" fill="#d9a882" stroke="#4a3428" stroke-width="2.6"/><circle cx="315.3" cy="466.7" r="11" fill="none" stroke="#6a5a50" stroke-width="1.2" stroke-dasharray="1.6 2.2"/><circle cx="315.3" cy="466.7" r="8" fill="none" stroke="#5a3a28" stroke-width="1.2"/><circle cx="315.3" cy="466.7" r="7.3" fill="#f3b384"/><rect x="314.0" y="459.4" width="2.6" height="14.6" fill="#cf7a40"/><path d="M303.0,466.7 L327.6,466.7" stroke="#4a2a18" stroke-width="1.8"/><path d="M315.3,456.7 L315.3,476.7" stroke="#7a4020" stroke-width="0.9"/><path d="M310.3,479.2 L320.3,479.2 L318.3,477.0 L312.3,477.0 Z" fill="#111"/><path d="M202.8,389 L202.8,546" stroke="#222" stroke-width="1.35"/><path d="M247.8,389 L247.8,546" stroke="#222" stroke-width="1.35"/><path d="M292.8,389 L292.8,546" stroke="#222" stroke-width="1.35"/></g><g clip-path="url(#bLR)"><rect x="337" y="389" width="152.39999999999998" height="158" fill="#e8e8e8"/><path d="M337,391.2 L489.4,391.2" stroke="#333" stroke-width="1.6"/><path d="M337,394.2 L489.4,394.2 M337,407.5 L489.4,407.5" stroke="#777" stroke-width="1.3"/><path d="M337,424 L489.4,424" stroke="#444" stroke-width="1.3"/><rect x="337" y="479" width="152.39999999999998" height="43" fill="#8e8e8e"/><path d="M337,479.5 L489.4,479.5" stroke="#222" stroke-width="1.5"/><rect x="337" y="481.09999999999997" width="152.39999999999998" height="1.6" fill="#e2e2e2"/><rect x="337" y="482.5" width="152.39999999999998" height="1" fill="#555"/><rect x="337" y="486.3" width="152.39999999999998" height="1.4" fill="#747474"/><rect x="337" y="488.09999999999997" width="152.39999999999998" height="1.6" fill="#e2e2e2"/><rect x="337" y="489.5" width="152.39999999999998" height="1" fill="#555"/><rect x="337" y="493.3" width="152.39999999999998" height="1.4" fill="#747474"/><rect x="337" y="495.09999999999997" width="152.39999999999998" height="1.6" fill="#e2e2e2"/><rect x="337" y="496.5" width="152.39999999999998" height="1" fill="#555"/><rect x="337" y="500.3" width="152.39999999999998" height="1.4" fill="#747474"/><rect x="337" y="502.09999999999997" width="152.39999999999998" height="1.6" fill="#e2e2e2"/><rect x="337" y="503.5" width="152.39999999999998" height="1" fill="#555"/><rect x="337" y="507.3" width="152.39999999999998" height="1.4" fill="#747474"/><rect x="337" y="509.09999999999997" width="152.39999999999998" height="1.6" fill="#e2e2e2"/><rect x="337" y="510.5" width="152.39999999999998" height="1" fill="#555"/><rect x="337" y="514.3" width="152.39999999999998" height="1.4" fill="#747474"/><rect x="337" y="516.1" width="152.39999999999998" height="1.6" fill="#e2e2e2"/><rect x="337" y="517.5" width="152.39999999999998" height="1" fill="#555"/><rect x="337" y="521.3000000000001" width="152.39999999999998" height="1.4" fill="#747474"/><rect x="337" y="518.4" width="152.39999999999998" height="3.6" fill="#4a4a4a"/><rect x="337" y="522" width="152.39999999999998" height="12" fill="#e4e4e4"/><path d="M337,534.3 L489.4,534.3" stroke="#333" stroke-width="1.4"/><rect x="337" y="535" width="152.39999999999998" height="10" fill="#dadada"/><path d="M344.40000000000003,535 L344.40000000000003,543.5 Q344.40000000000003,545.8 346.70000000000005,545.8 L373.7,545.8 Q376.0,545.8 376.0,543.5 L376.0,535 Z" fill="#ececec" stroke="#222" stroke-width="1.4"/><rect x="346.40000000000003" y="536" width="1.2" height="8.5" fill="#666"/><rect x="352.00000000000006" y="536" width="2" height="8.5" fill="#999"/><rect x="355.20000000000005" y="536" width="1" height="8.5" fill="#666"/><rect x="366.90000000000003" y="536" width="2.5" height="8.5" fill="#aaa"/><rect x="373.8" y="536" width="1.2" height="8.5" fill="#666"/><rect x="377.6" y="536" width="1.2" height="8.5" fill="#666"/><rect x="377.6" y="537" width="4.5" height="6.5" fill="#eee" stroke="#555" stroke-width="0.8"/><path d="M389.40000000000003,535 L389.40000000000003,543.5 Q389.40000000000003,545.8 391.70000000000005,545.8 L418.7,545.8 Q421.0,545.8 421.0,543.5 L421.0,535 Z" fill="#ececec" stroke="#222" stroke-width="1.4"/><rect x="391.40000000000003" y="536" width="1.2" height="8.5" fill="#666"/><rect x="397.00000000000006" y="536" width="2" height="8.5" fill="#999"/><rect x="400.20000000000005" y="536" width="1" height="8.5" fill="#666"/><rect x="411.90000000000003" y="536" width="2.5" height="8.5" fill="#aaa"/><rect x="418.8" y="536" width="1.2" height="8.5" fill="#666"/><rect x="422.6" y="536" width="1.2" height="8.5" fill="#666"/><rect x="422.6" y="537" width="4.5" height="6.5" fill="#eee" stroke="#555" stroke-width="0.8"/><path d="M434.40000000000003,535 L434.40000000000003,543.5 Q434.40000000000003,545.8 436.70000000000005,545.8 L463.7,545.8 Q466.0,545.8 466.0,543.5 L466.0,535 Z" fill="#ececec" stroke="#222" stroke-width="1.4"/><rect x="436.40000000000003" y="536" width="1.2" height="8.5" fill="#666"/><rect x="442.00000000000006" y="536" width="2" height="8.5" fill="#999"/><rect x="445.20000000000005" y="536" width="1" height="8.5" fill="#666"/><rect x="456.90000000000003" y="536" width="2.5" height="8.5" fill="#aaa"/><rect x="463.8" y="536" width="1.2" height="8.5" fill="#666"/><rect x="467.6" y="536" width="1.2" height="8.5" fill="#666"/><rect x="467.6" y="537" width="4.5" height="6.5" fill="#eee" stroke="#555" stroke-width="0.8"/><circle cx="360.3" cy="466.7" r="10" fill="#d9a882" stroke="#4a3428" stroke-width="2.6"/><circle cx="360.3" cy="466.7" r="11" fill="none" stroke="#6a5a50" stroke-width="1.2" stroke-dasharray="1.6 2.2"/><circle cx="360.3" cy="466.7" r="8" fill="none" stroke="#5a3a28" stroke-width="1.2"/><circle cx="360.3" cy="466.7" r="7.3" fill="#f3b384"/><rect x="359.0" y="459.4" width="2.6" height="14.6" fill="#cf7a40"/><path d="M348.0,466.7 L372.6,466.7" stroke="#4a2a18" stroke-width="1.8"/><path d="M360.3,456.7 L360.3,476.7" stroke="#7a4020" stroke-width="0.9"/><path d="M355.3,479.2 L365.3,479.2 L363.3,477.0 L357.3,477.0 Z" fill="#111"/><circle cx="405.3" cy="466.7" r="10" fill="#d9a882" stroke="#4a3428" stroke-width="2.6"/><circle cx="405.3" cy="466.7" r="11" fill="none" stroke="#6a5a50" stroke-width="1.2" stroke-dasharray="1.6 2.2"/><circle cx="405.3" cy="466.7" r="8" fill="none" stroke="#5a3a28" stroke-width="1.2"/><circle cx="405.3" cy="466.7" r="7.3" fill="#f3b384"/><rect x="404.0" y="459.4" width="2.6" height="14.6" fill="#cf7a40"/><path d="M393.0,466.7 L417.6,466.7" stroke="#4a2a18" stroke-width="1.8"/><path d="M405.3,456.7 L405.3,476.7" stroke="#7a4020" stroke-width="0.9"/><path d="M400.3,479.2 L410.3,479.2 L408.3,477.0 L402.3,477.0 Z" fill="#111"/><circle cx="450.3" cy="466.7" r="10" fill="#d9a882" stroke="#4a3428" stroke-width="2.6"/><circle cx="450.3" cy="466.7" r="11" fill="none" stroke="#6a5a50" stroke-width="1.2" stroke-dasharray="1.6 2.2"/><circle cx="450.3" cy="466.7" r="8" fill="none" stroke="#5a3a28" stroke-width="1.2"/><circle cx="450.3" cy="466.7" r="7.3" fill="#f3b384"/><rect x="449.0" y="459.4" width="2.6" height="14.6" fill="#cf7a40"/><path d="M438.0,466.7 L462.6,466.7" stroke="#4a2a18" stroke-width="1.8"/><path d="M450.3,456.7 L450.3,476.7" stroke="#7a4020" stroke-width="0.9"/><path d="M445.3,479.2 L455.3,479.2 L453.3,477.0 L447.3,477.0 Z" fill="#111"/><path d="M337.8,389 L337.8,546" stroke="#222" stroke-width="1.35"/><path d="M382.8,389 L382.8,546" stroke="#222" stroke-width="1.35"/><path d="M427.8,389 L427.8,546" stroke="#222" stroke-width="1.35"/></g><path d="M472.8,389 L472.8,546" stroke="#222" stroke-width="1.6"/><g clip-path="url(#bUL)"><rect x="199.8" y="314" width="139.2" height="80" fill="#e8e8e8"/><path d="M202.8,314 L202.8,395" stroke="#222" stroke-width="1.35"/><path d="M247.8,314 L247.8,395" stroke="#222" stroke-width="1.35"/><path d="M292.8,314 L292.8,395" stroke="#222" stroke-width="1.35"/><path d="M336,314 L336,395" stroke="#222" stroke-width="1.35"/><rect x="233.4" y="315.5" width="15.4" height="76.5" rx="1.5" fill="#1ee0e4" stroke="#137a7e" stroke-width="1"/><rect x="233.8" y="318.8" width="14.6" height="2.2" fill="#127074"/><rect x="233.8" y="321" width="14.6" height="4.8" fill="#2ad6d8"/><rect x="233.8" y="325.8" width="14.6" height="2.4" fill="#127074"/><rect x="233.8" y="387.6" width="14.6" height="1.8" fill="#127074"/><rect x="233.8" y="389.4" width="14.6" height="2.4" fill="#7eeeee"/><path d="M278.8,315.5 Q275.3,321 274.8,328.4 L274.8,379.5 Q274.8,381.2 277.8,381.2 L293.1,381.2 L293.1,315.5 Z" fill="#e9e9e9" stroke="#3a3a3a" stroke-width="1.3"/><path d="M278.8,316 Q275.3,321 274.8,328.4 L293.1,328.4 L293.1,316 Z" fill="#dadada"/><path d="M274.8,328.4 L293.1,328.4" stroke="#666" stroke-width="1.2"/><path d="M276.8,383 L293.1,383 L293.1,389.6 L273.8,389.6 Q272.8,386 276.8,383 Z" fill="#8a8a8a" stroke="#333" stroke-width="1"/><path d="M277.8,385.5 L293.1,385.5" stroke="#ccc" stroke-width="1"/><path d="M323.8,315.5 Q320.3,321 319.8,328.4 L319.8,379.5 Q319.8,381.2 322.8,381.2 L338.1,381.2 L338.1,315.5 Z" fill="#e9e9e9" stroke="#3a3a3a" stroke-width="1.3"/><path d="M323.8,316 Q320.3,321 319.8,328.4 L338.1,328.4 L338.1,316 Z" fill="#dadada"/><path d="M319.8,328.4 L338.1,328.4" stroke="#666" stroke-width="1.2"/><path d="M321.8,383 L338.1,383 L338.1,389.6 L318.8,389.6 Q317.8,386 321.8,383 Z" fill="#8a8a8a" stroke="#333" stroke-width="1"/><path d="M322.8,385.5 L338.1,385.5" stroke="#ccc" stroke-width="1"/><path d="M199.8,315.6 L339,315.6" stroke="#2a2a2a" stroke-width="2.6"/></g><g clip-path="url(#bUR)"><rect x="337" y="314" width="138.7" height="80" fill="#e8e8e8"/><path d="M337.8,314 L337.8,395" stroke="#222" stroke-width="1.35"/><path d="M382.8,314 L382.8,395" stroke="#222" stroke-width="1.35"/><path d="M427.8,314 L427.8,395" stroke="#222" stroke-width="1.35"/><path d="M472.7,314 L472.7,395" stroke="#222" stroke-width="1.35"/><path d="M368.8,315.5 Q365.3,321 364.8,328.4 L364.8,379.5 Q364.8,381.2 367.8,381.2 L383.1,381.2 L383.1,315.5 Z" fill="#e9e9e9" stroke="#3a3a3a" stroke-width="1.3"/><path d="M368.8,316 Q365.3,321 364.8,328.4 L383.1,328.4 L383.1,316 Z" fill="#dadada"/><path d="M364.8,328.4 L383.1,328.4" stroke="#666" stroke-width="1.2"/><path d="M366.8,383 L383.1,383 L383.1,389.6 L363.8,389.6 Q362.8,386 366.8,383 Z" fill="#8a8a8a" stroke="#333" stroke-width="1"/><path d="M367.8,385.5 L383.1,385.5" stroke="#ccc" stroke-width="1"/><rect x="413.40000000000003" y="315.5" width="15.4" height="76.5" rx="1.5" fill="#1ee0e4" stroke="#137a7e" stroke-width="1"/><rect x="413.8" y="318.8" width="14.6" height="2.2" fill="#127074"/><rect x="413.8" y="321" width="14.6" height="4.8" fill="#2ad6d8"/><rect x="413.8" y="325.8" width="14.6" height="2.4" fill="#127074"/><rect x="413.8" y="387.6" width="14.6" height="1.8" fill="#127074"/><rect x="413.8" y="389.4" width="14.6" height="2.4" fill="#7eeeee"/><path d="M458.8,315.5 Q455.3,321 454.8,328.4 L454.8,379.5 Q454.8,381.2 457.8,381.2 L473.1,381.2 L473.1,315.5 Z" fill="#e9e9e9" stroke="#3a3a3a" stroke-width="1.3"/><path d="M458.8,316 Q455.3,321 454.8,328.4 L473.1,328.4 L473.1,316 Z" fill="#dadada"/><path d="M454.8,328.4 L473.1,328.4" stroke="#666" stroke-width="1.2"/><path d="M456.8,383 L473.1,383 L473.1,389.6 L453.8,389.6 Q452.8,386 456.8,383 Z" fill="#8a8a8a" stroke="#333" stroke-width="1"/><path d="M457.8,385.5 L473.1,385.5" stroke="#ccc" stroke-width="1"/><path d="M337,315.6 L475.7,315.6" stroke="#2a2a2a" stroke-width="2.6"/></g><path d="M190,538.2 L202,538.2 M190,540 L202,540" stroke="#666" stroke-width="0.9"/><path d="M202.8,390.4 L202.8,315 L333.4,315" fill="none" stroke="#1e1e1e" stroke-width="2"/><path d="M342.9,315 L472.7,315 L472.7,390.4" fill="none" stroke="#1e1e1e" stroke-width="2"/><path d="M331.7,390.4 L189.2,390.4" fill="none" stroke="#1e1e1e" stroke-width="2"/><path d="M189.2,390.4 L189.2,545.3 L332.5,545.3" fill="none" stroke="#2a2a2a" stroke-width="1.7"/><path d="M341.2,390.4 L486.4,390.4" fill="none" stroke="#1e1e1e" stroke-width="2"/><path d="M486.4,390.4 L486.4,545.3 L343,545.3" fill="none" stroke="#2a2a2a" stroke-width="1.7"/><path d="M333.4,315 C330.5,335 335,355 334.3,370 C333.5,385 331.5,395 331.7,410 C332,440 334.5,470 334.3,490 C334,515 332.5,530 332.5,545.5" fill="none" stroke="#1e1e1e" stroke-width="1.9"/><path d="M342.9,315 C340,335 344.5,355 343.8,370 C343,385 341,395 341.2,410 C341.5,440 344.5,470 344.7,490 C344.5,515 343,530 343,545.5" fill="none" stroke="#1e1e1e" stroke-width="1.9"/><path d="M226,175 L226,233.2" stroke="#444" stroke-width="1.3"/><path d="M270.5,175 L270.5,233.2" stroke="#444" stroke-width="1.3"/><path d="M183.6,225.5 L205,225.5" stroke="#000" stroke-width="2"/><path d="M224.5,225.5 L201.5,231.7 L201.5,219.3 Z" fill="#000"/><path d="M292,225.5 L312.4,225.5" stroke="#000" stroke-width="2"/><path d="M271.8,225.5 L294.8,219.3 L294.8,231.7 Z" fill="#000"/><g transform="translate(241.7,217.2) scale(0.9920)" stroke="#000" stroke-width="2.923" stroke-linecap="butt"><path d="M-4.15,0 L-4.15,23.55 L5.6,23.55" fill="none" stroke-linejoin="miter"/></g><g transform="translate(253,234) scale(0.5760)" stroke="#000" stroke-width="4.167" stroke-linecap="butt"><path d="M-5.4,3.1 L0,1.1 L0,25" fill="none" stroke-linejoin="miter"/></g><path d="M591.9,155 L591.9,287.6" stroke="#444" stroke-width="1.3"/><path d="M702.2,175 L702.2,237.8" stroke="#444" stroke-width="1.3"/><path d="M855.8,155 L855.8,287.3" stroke="#444" stroke-width="1.3"/><path d="M702,227.9 L744,227.9" stroke="#000" stroke-width="2"/><path d="M703,227.9 L726.0,221.70000000000002 L726.0,234.1 Z" fill="#000"/><path d="M815,227.9 L855,227.9" stroke="#000" stroke-width="2"/><path d="M854.8,227.9 L831.8,234.1 L831.8,221.70000000000002 Z" fill="#000"/><g transform="translate(759.3,215.6) scale(0.9960)" stroke="#000" stroke-width="2.912" stroke-linecap="butt"><path d="M-5.4,3.1 L0,1.1 L0,25" fill="none" stroke-linejoin="miter"/></g><g transform="translate(776.6,215.6) scale(0.9960)" stroke="#000" stroke-width="2.912" stroke-linecap="butt"><path d="M-8.6,1.45 L8.4,1.45 L-7.4,24.2" fill="none" stroke-linejoin="miter"/></g><g transform="translate(785.3,215.6) scale(0.9960)" stroke="#000" stroke-width="2.912" stroke-linecap="butt"><path d="M1.75,22.4 L-1.75,30" fill="none"/></g><g transform="translate(800.5,215.6) scale(0.9960)" stroke="#000" stroke-width="2.912" stroke-linecap="butt"><path d="M-6.1,7.6 A6.1,6.1 0 1 1 5.66,9.89 L-6.3,23.55 L7.3,23.55" fill="none" stroke-linejoin="miter"/></g><path d="M592,280.4 L685,280.4" stroke="#000" stroke-width="2"/><path d="M593,280.4 L616.0,274.2 L616.0,286.59999999999997 Z" fill="#000"/><path d="M772,280.4 L855,280.4" stroke="#000" stroke-width="2"/><path d="M854.8,280.4 L831.8,286.59999999999997 L831.8,274.2 Z" fill="#000"/><g transform="translate(704.6,269.3) scale(0.9960)" stroke="#000" stroke-width="2.912" stroke-linecap="butt"><path d="M-6.1,7.6 A6.1,6.1 0 1 1 5.66,9.89 L-6.3,23.55 L7.3,23.55" fill="none" stroke-linejoin="miter"/></g><g transform="translate(726,269.3) scale(0.9960)" stroke="#000" stroke-width="2.912" stroke-linecap="butt"><circle cx="0" cy="8" r="6.75" fill="none"/><path d="M6.6,9.8 L-2.6,23.9" fill="none"/></g><g transform="translate(740.2,269.3) scale(0.9960)" stroke="#000" stroke-width="2.912" stroke-linecap="butt"><path d="M1.75,22.4 L-1.75,30" fill="none"/></g><g transform="translate(756,269.3) scale(0.9960)" stroke="#000" stroke-width="2.912" stroke-linecap="butt"><circle cx="0" cy="6.2" r="5.3" fill="none"/><circle cx="0" cy="18.1" r="6.4" fill="none"/></g><path d="M847,40.8 L918.7,40.8" stroke="#444" stroke-width="1.3"/><path d="M836,176 L917,176" stroke="#555" stroke-width="1.3"/><path d="M908.3,64 L908.3,81.3" stroke="#000" stroke-width="2"/><path d="M908.3,41.5 L914.5,64.5 L902.0999999999999,64.5 Z" fill="#000"/><path d="M908.3,134 L908.3,151.3" stroke="#000" stroke-width="2"/><path d="M908.3,175 L902.0999999999999,152.0 L914.5,152.0 Z" fill="#000"/><g transform="translate(895.3,122.7) rotate(-90)"><g transform="translate(4.9,0) scale(1.0080)" stroke="#000" stroke-width="2.877" stroke-linecap="butt"><path d="M-5.4,3.1 L0,1.1 L0,25" fill="none" stroke-linejoin="miter"/></g><g transform="translate(21.4,0) scale(1.0080)" stroke="#000" stroke-width="2.877" stroke-linecap="butt"><path d="M8.4,1.45 L-1.3,1.45 L-3.69,10.73 A7.4,7.4 0 1 1 -6.54,20.84" fill="none" stroke-linejoin="miter"/></g></g><path d="M427.9,545 L427.9,604.6" stroke="#444" stroke-width="1.3"/><path d="M385.2,596.6 L405,596.6" stroke="#000" stroke-width="2"/><path d="M426.5,596.6 L403.5,602.8000000000001 L403.5,590.4 Z" fill="#000"/><path d="M496,596.6 L514.8,596.6" stroke="#000" stroke-width="2"/><path d="M473.8,596.6 L496.8,590.4 L496.8,602.8000000000001 Z" fill="#000"/><g transform="translate(444.2,585.4) scale(1.0160)" stroke="#000" stroke-width="2.854" stroke-linecap="butt"><path d="M-4.15,0 L-4.15,23.55 L5.6,23.55" fill="none" stroke-linejoin="miter"/></g><g transform="translate(456,602.2) scale(0.5760)" stroke="#000" stroke-width="4.167" stroke-linecap="butt"><path d="M-5.4,3.1 L0,1.1 L0,25" fill="none" stroke-linejoin="miter"/></g><path d="M125.6,540 L125.6,663.2" stroke="#444" stroke-width="1.3"/><path d="M202.8,545 L202.8,663.2" stroke="#444" stroke-width="1.3"/><path d="M472.7,545 L472.7,663.2" stroke="#444" stroke-width="1.3"/><path d="M544.2,537 L544.2,663.2" stroke="#444" stroke-width="1.3"/><path d="M80.4,654.8 L100,654.8" stroke="#000" stroke-width="2"/><path d="M124.5,654.8 L101.5,661.0 L101.5,648.5999999999999 Z" fill="#000"/><g transform="translate(148.5,639.8) scale(1.0000)" stroke="#000" stroke-width="2.900" stroke-linecap="butt"><circle cx="0" cy="6.2" r="5.3" fill="none"/><circle cx="0" cy="18.1" r="6.4" fill="none"/></g><g transform="translate(162.7,639.8) scale(1.0000)" stroke="#000" stroke-width="2.900" stroke-linecap="butt"><path d="M1.75,22.4 L-1.75,30" fill="none"/></g><g transform="translate(178.3,639.8) scale(1.0000)" stroke="#000" stroke-width="2.900" stroke-linecap="butt"><circle cx="0.2" cy="16.9" r="6.75" fill="none"/><path d="M3.6,1.2 L-5.6,13.6" fill="none"/></g><path d="M226,654.6 L324.6,654.6" stroke="#000" stroke-width="2"/><path d="M204,654.6 L227.0,648.4 L227.0,660.8000000000001 Z" fill="#000"/><g transform="translate(342.8,643.8) scale(1.0080)" stroke="#000" stroke-width="2.877" stroke-linecap="butt"><path d="M-4.15,0 L-4.15,23.55 L5.6,23.55" fill="none" stroke-linejoin="miter"/></g><path d="M363.8,654.6 L450,654.6" stroke="#000" stroke-width="2"/><path d="M471.6,654.6 L448.6,660.8000000000001 L448.6,648.4 Z" fill="#000"/><g transform="translate(498.8,639.5) scale(1.0080)" stroke="#000" stroke-width="2.877" stroke-linecap="butt"><circle cx="0" cy="6.2" r="5.3" fill="none"/><circle cx="0" cy="18.1" r="6.4" fill="none"/></g><g transform="translate(512.5,639.5) scale(1.0080)" stroke="#000" stroke-width="2.877" stroke-linecap="butt"><path d="M1.75,22.4 L-1.75,30" fill="none"/></g><g transform="translate(526.5,639.5) scale(1.0080)" stroke="#000" stroke-width="2.877" stroke-linecap="butt"><path d="M-5.4,3.1 L0,1.1 L0,25" fill="none" stroke-linejoin="miter"/></g><path d="M567,654.4 L586.4,654.4" stroke="#000" stroke-width="2"/><path d="M545.5,654.4 L568.5,648.1999999999999 L568.5,660.6 Z" fill="#000"/></svg></body></html>
